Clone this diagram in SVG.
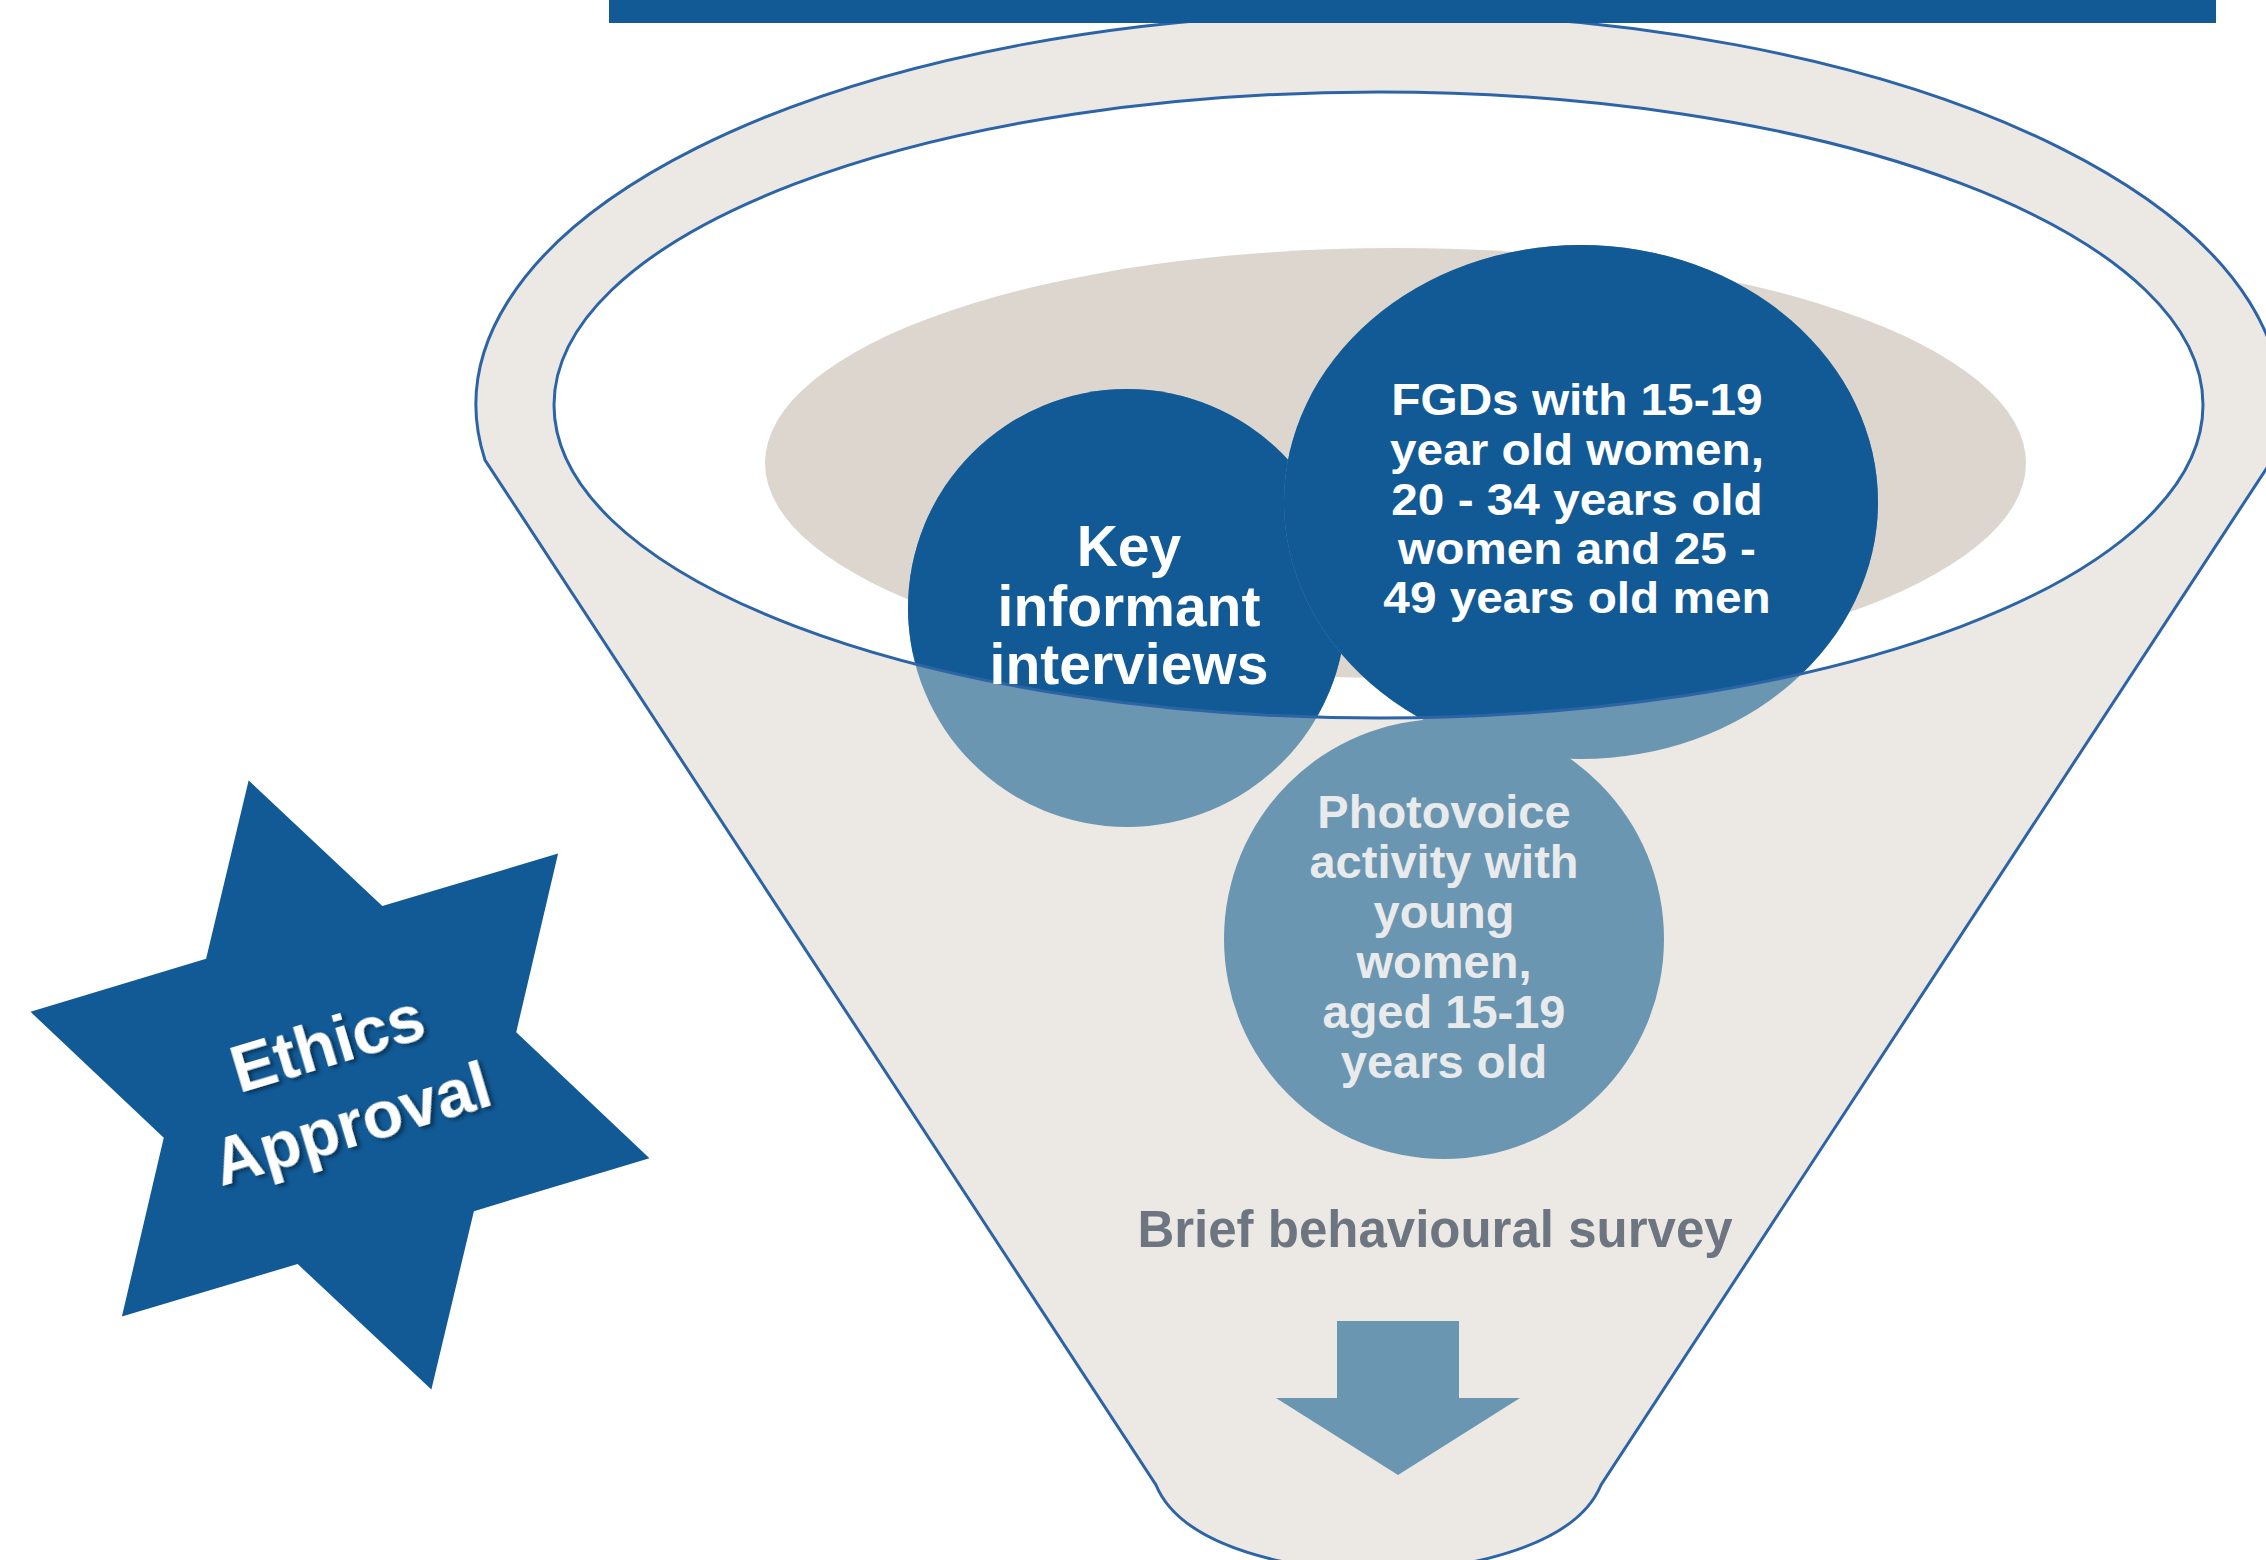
<svg xmlns="http://www.w3.org/2000/svg" width="2266" height="1560" viewBox="0 0 2266 1560">
  <defs>
    <style>
      .t { font-family: "Liberation Sans", Arial, sans-serif; font-weight: bold; text-anchor: middle; }
      .white { fill: #ffffff; }
      .pale { fill: #e9eaeb; }
      .gray { fill: #6c7580; }
      .dark { fill: #115a96; }
      .light { fill: #6b96b1; }
      .edge { fill: none; stroke: #2d64a6; stroke-width: 3; }
    </style>
    <clipPath id="opening">
      <ellipse cx="1378.5" cy="405" rx="824.5" ry="313"/>
    </clipPath>
    <filter id="shadow" x="-20%" y="-20%" width="140%" height="140%">
      <feGaussianBlur in="SourceAlpha" stdDeviation="2"/>
      <feOffset dx="3" dy="3" result="o"/>
      <feFlood flood-color="#000000" flood-opacity="0.45"/>
      <feComposite in2="o" operator="in"/>
      <feMerge><feMergeNode/><feMergeNode in="SourceGraphic"/></feMerge>
    </filter>
  </defs>

  <rect width="2266" height="1560" fill="#ffffff"/>

  <g id="funnel">
    <path d="M 485 460 A 902.5 392 0 1 1 2272 460 L 1601 1485 Q 1570 1560 1378 1575 Q 1187 1560 1156 1485 Z" fill="#ece9e5" stroke="#2d64a6" stroke-width="3"/>
    <ellipse cx="1378.5" cy="405" rx="824.5" ry="313" fill="#ffffff"/>
    <ellipse cx="1395.5" cy="463" rx="630.5" ry="215" fill="#ddd6cf"/>
  </g>

  <g id="top-bar">
    <rect x="609" y="0" width="1607" height="23" class="dark"/>
  </g>

  <g id="key-informant">
    <circle cx="1127" cy="608" r="219" class="light"/>
    <circle cx="1127" cy="608" r="219" class="dark" clip-path="url(#opening)"/>
  </g>

  <g id="fgds">
    <ellipse cx="1581" cy="502" rx="297" ry="257" class="light"/>
    <ellipse cx="1581" cy="502" rx="297" ry="257" class="dark" clip-path="url(#opening)"/>
  </g>

  <g id="photovoice">
    <circle cx="1444" cy="939" r="220" class="light"/>
  </g>

  <ellipse id="opening-rim" cx="1378.5" cy="405" rx="824.5" ry="313" class="edge"/>

  <g id="key-informant-label" class="t white" font-size="57">
    <text x="1129" y="566">Key</text>
    <text x="1129" y="626">informant</text>
    <text x="1129" y="684">interviews</text>
  </g>

  <g id="fgds-label" transform="translate(1577 0) scale(1.085 1)">
    <g class="t white" font-size="44">
      <text x="0" y="415">FGDs with 15-19</text>
      <text x="0" y="465">year old women,</text>
      <text x="0" y="515">20 - 34 years old</text>
      <text x="0" y="564">women and 25 -</text>
      <text x="0" y="613">49 years old men</text>
    </g>
  </g>

  <g id="photovoice-label" class="t pale" font-size="47">
    <text x="1444" y="828">Photovoice</text>
    <text x="1444" y="878">activity with</text>
    <text x="1444" y="928">young</text>
    <text x="1444" y="978">women,</text>
    <text x="1444" y="1028">aged 15-19</text>
    <text x="1444" y="1078">years old</text>
  </g>

  <g id="survey">
    <text x="1435" y="1247" class="t gray" font-size="51">Brief behavioural survey</text>
  </g>

  <g id="connectors">
    <polygon points="1337,1321 1459,1321 1459,1398 1520,1398 1398,1475 1276,1398 1337,1398" class="light"/>
  </g>

  <g id="ethics-approval" transform="translate(340 1085) rotate(-16.7)">
    <polygon points="0,-318 92,-159.3 275.4,-159 184,0 275.4,159 92,159.3 0,318 -92,159.3 -275.4,159 -184,0 -275.4,-159 -92,-159.3" class="dark"/>
    <g class="t white" font-size="66" filter="url(#shadow)">
      <text x="0" y="-21">Ethics</text>
      <text x="0" y="63">Approval</text>
    </g>
  </g>
</svg>
